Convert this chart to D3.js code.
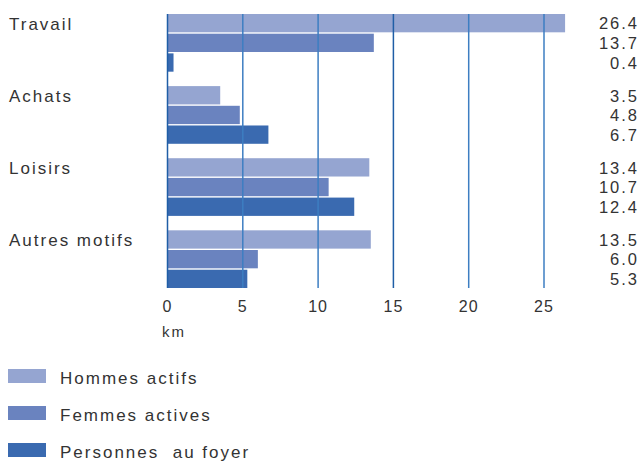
<!DOCTYPE html>
<html>
<head>
<meta charset="utf-8">
<script src="https://cdn.jsdelivr.net/npm/d3@7"></script>
<style>
  html, body { margin: 0; padding: 0; background: #fff; }
  svg { display: block; }
  text { font-family: "Liberation Sans", Arial, sans-serif; fill: #333; }
</style>
</head>
<body>
<svg id="chart" width="643" height="461"></svg>
<script>
const categories = ["Travail", "Achats", "Loisirs", "Autres motifs"];
const seriesNames = ["Hommes actifs", "Femmes actives", "Personnes  au foyer"];
const hommes = [26.4, 3.5, 13.4, 13.5];
const femmes = [13.7, 4.8, 10.7, 6.0];
const foyer = [0.4, 6.7, 12.4, 5.3];
const seriesValues = [hommes, femmes, foyer];
const ticks = [0, 5, 10, 15, 20, 25];
const colors = ["#95a5d1", "#6a83bf", "#3a6ab0"];
const unitLabel = "km";

const svg = d3.select("#chart");

const x = d3.scaleLinear().domain([0, 25]).range([167.5, 544]);
const y0 = d3.scaleBand().domain(categories).range([14, 288]).paddingInner(0.2).paddingOuter(0);
const y1 = d3.scaleBand().domain(d3.range(3)).range([0, y0.bandwidth()]).paddingInner(0.07).paddingOuter(0);

const rows = [];
categories.forEach((c, i) => {
  seriesValues.forEach((s, j) => rows.push({ cat: c, s: j, v: s[i] }));
});

// bars
svg.append("g").selectAll("rect").data(rows).join("rect")
  .attr("x", x(0))
  .attr("y", d => y0(d.cat) + y1(d.s))
  .attr("width", d => x(d.v) - x(0))
  .attr("height", y1.bandwidth())
  .attr("fill", d => colors[d.s]);

// gridlines on top
svg.append("g").selectAll("line").data(ticks).join("line")
  .attr("x1", d => x(d)).attr("x2", d => x(d))
  .attr("y1", 14).attr("y2", 288)
  .attr("stroke", d => (d === 0 || d === 15) ? "#1f5ea6" : "#3d7ec2")
  .attr("stroke-width", 1.5);

// tick labels
svg.append("g").selectAll("text").data(ticks).join("text")
  .attr("x", d => x(d))
  .attr("y", 312)
  .attr("text-anchor", "middle")
  .style("font-size", "16px")
  .style("letter-spacing", "1px")
  .text(d => d);

svg.append("text")
  .attr("x", 162).attr("y", 337)
  .style("font-size", "15px")
  .style("letter-spacing", "2px")
  .text(unitLabel);

// category labels
svg.append("g").selectAll("text").data(categories).join("text")
  .attr("x", 9)
  .attr("y", d => y0(d) + 16)
  .style("font-size", "17px")
  .style("letter-spacing", "2px")
  .text(d => d);

// value labels
svg.append("g").selectAll("text").data(rows).join("text")
  .attr("x", 639)
  .attr("y", d => y0(d.cat) + y1(d.s) + y1.bandwidth() / 2 + 6.3)
  .attr("text-anchor", "end")
  .style("font-size", "16.5px")
  .style("letter-spacing", "2px")
  .text(d => d.v.toFixed(1));

// legend
const lg = svg.append("g").selectAll("g").data(seriesNames).join("g")
  .attr("transform", (d, i) => `translate(8, ${369 + i * 37})`);
lg.append("rect").attr("width", 38).attr("height", 14).attr("fill", (d, i) => colors[i]);
lg.append("text")
  .attr("x", 52).attr("y", 14.5)
  .style("font-size", "17px")
  .style("letter-spacing", "2px")
  .style("white-space", "pre")
  .text(d => d);
</script>
</body>
</html>
